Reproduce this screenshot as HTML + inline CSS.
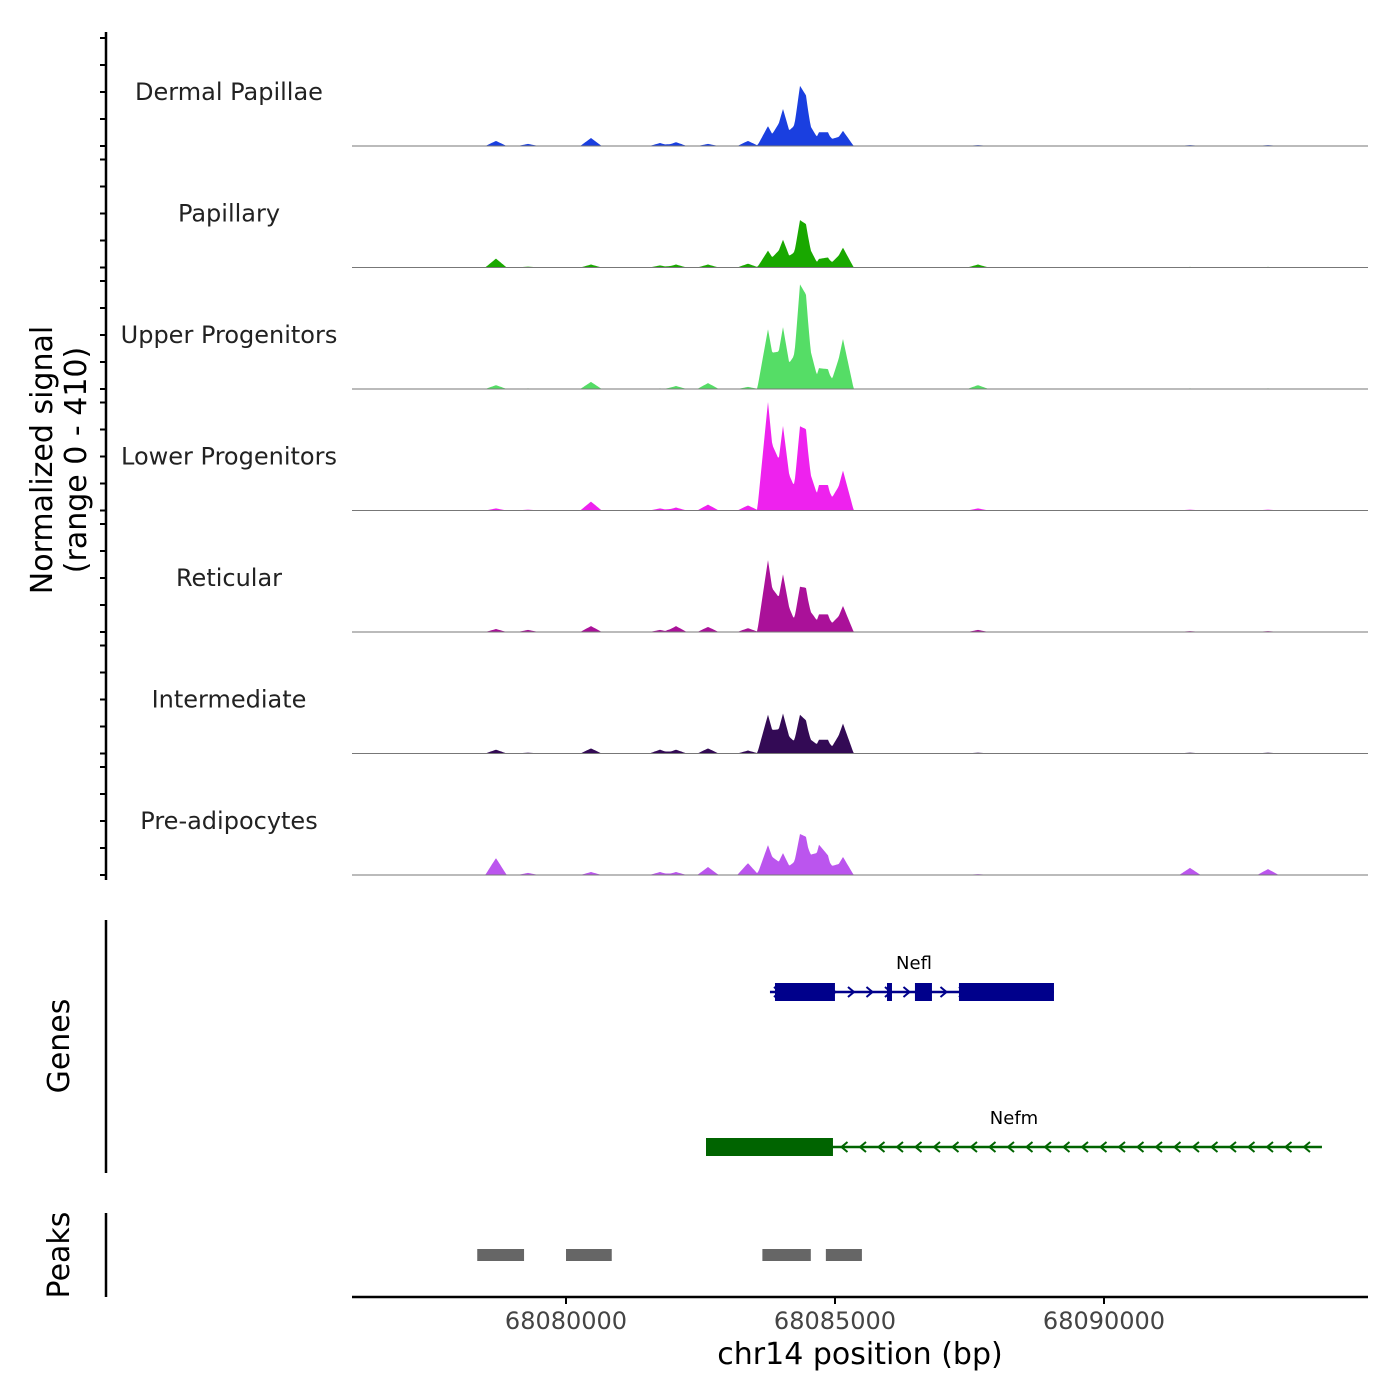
<!DOCTYPE html>
<html><head><meta charset="utf-8"><style>
body{margin:0;background:#fff}
svg{display:block;font-family:"DejaVu Sans","Liberation Sans",sans-serif}
</style></head><body>
<svg id="chart" width="1400" height="1400" viewBox="0 0 1400 1400">
<g id="tracks"></g>
<g id="axes"></g>
<g id="genes"></g>
<g id="peaks"></g>
</svg>
<script>
const trackNames = ["Dermal Papillae","Papillary","Upper Progenitors","Lower Progenitors","Reticular","Intermediate","Pre-adipocytes"];
const trackColors = ["#1a3fe0","#19a800","#55dd66","#ee22ee","#aa1199","#330a55","#bb55ee"];
const peakCenters = [68078698,68079293,68080464,68081747,68082044,68082639,68083382,68083754,68084033,68084349,68084460,68084702,68084869,68085148,68087657,68091598,68093048];
const sigDermal = [17,7,27,10,13,7,17,67,125,158,101,40,40,51,3,3,3];
const sigPapillary = [30,3,10,7,10,10,13,57,94,118,94,24,30,67,10,2,2];
const sigUpper = [13,2,24,2,10,20,7,202,209,263,202,61,57,169,13,2,2];
const sigLower = [7,3,30,7,10,20,17,367,286,202,185,74,74,135,7,3,3];
const sigReticular = [10,7,20,7,20,17,13,243,195,108,101,51,51,88,7,3,3];
const sigIntermediate = [13,3,17,13,13,17,10,131,135,101,67,40,40,101,3,3,3];
const sigPreadipo = [57,7,10,10,10,27,40,101,74,101,84,94,51,61,3,24,20];
const signals = [sigDermal,sigPapillary,sigUpper,sigLower,sigReticular,sigIntermediate,sigPreadipo];
const xTicks = [68080000,68085000,68090000];
const geneNames = ["Nefl","Nefm"];
const geneStarts = [68083791,68082602];
const geneEnds = [68089070,68094051];
const geneStrand = [1,-1];
const exonsNefl = [[68083884,68084999],[68085966,68086059],[68086486,68086802],[68087304,68089070]];
const exonsNefm = [[68082602,68084962]];
const peakStarts = [68078350,68080000,68083650,68084830];
const peakEnds = [68079220,68080850,68084550,68085500];
const yMax = 410;

const NS="http://www.w3.org/2000/svg";
const X0=352,X1=1368,D0=68076022,D1=68094907;
const xs=v=>X0+(v-D0)/(D1-D0)*(X1-X0);
const TH=121.5, base0=146;
const ys=(v,b)=>b-v/yMax*TH;
function el(t,a,p){const e=document.createElementNS(NS,t);for(const k in a)e.setAttribute(k,a[k]);p.appendChild(e);return e;}
const tracks=document.getElementById('tracks');
const hw=200;
trackNames.forEach((n,i)=>{
  const b=base0+i*TH;
  let d=`M${X0},${b}`;
  for(let px=X0;px<=X1;px++){
    const bp=D0+(px-X0)/(X1-X0)*(D1-D0);
    let s=0;
    peakCenters.forEach((c,j)=>{const r=1-Math.abs(bp-c)/hw;if(r>0)s+=signals[i][j]*r;});
    d+=`L${px},${ys(Math.min(s,yMax),b).toFixed(1)}`;
  }
  d+=`L${X1},${b}Z`;
  const p=el('path',{d:d,fill:trackColors[i]},tracks);
  
  
  const l=el('line',{x1:X0,x2:X1,y1:b,y2:b,stroke:'#777','stroke-width':1},tracks);
  
  
  const t=el('text',{x:229,y:b-46,'text-anchor':'middle','font-size':24,fill:'#222'},tracks);
  t.textContent=n;
  
  
  for(let k=0;k<5;k++){const y=b-k*27;el('line',{x1:100,x2:106,y1:y,y2:y,stroke:'#000','stroke-width':2},tracks);}
});
const axes=document.getElementById('axes');
el('line',{x1:106,x2:106,y1:32,y2:880,stroke:'#000','stroke-width':2.5},axes);
let t=el('text',{transform:'translate(52,460) rotate(-90)','text-anchor':'middle','font-size':30,fill:'#000'},axes);t.textContent='Normalized signal';

t=el('text',{transform:'translate(86,460) rotate(-90)','text-anchor':'middle','font-size':30,fill:'#000'},axes);t.textContent='(range 0 - 410)';

el('line',{x1:X0,x2:X1,y1:1297,y2:1297,stroke:'#000','stroke-width':2.5},axes);
xTicks.forEach(v=>{const x=xs(v);el('line',{x1:x,x2:x,y1:1297,y2:1304,stroke:'#000','stroke-width':2},axes);
 const tt=el('text',{x:x,y:1329,'text-anchor':'middle','font-size':24,fill:'#444'},axes);tt.textContent=v;
 });
t=el('text',{x:860,y:1364,'text-anchor':'middle','font-size':30,fill:'#000'},axes);t.textContent='chr14 position (bp)';

const g=document.getElementById('genes');
el('line',{x1:106,x2:106,y1:920,y2:1173,stroke:'#000','stroke-width':2.5},g);
t=el('text',{transform:'translate(69,1046) rotate(-90)','text-anchor':'middle','font-size':30},g);t.textContent='Genes';

const geneY=[992,1147],geneCol=['#00008b','#006400'],exons=[exonsNefl,exonsNefm];
geneNames.forEach((n,i)=>{
  const y=geneY[i],c=geneCol[i],a=xs(geneStarts[i]),b=xs(geneEnds[i]);
  el('line',{x1:a,x2:b,y1:y,y2:y,stroke:c,'stroke-width':2.5},g);
  for(let x=a+8;x<b;x+=18.5){const s=geneStrand[i];
    el('polyline',{points:`${x-4*s},${y-5} ${x+2*s},${y} ${x-4*s},${y+5}`,fill:'none',stroke:c,'stroke-width':2},g);}
  exons[i].forEach(e=>{const r=el('rect',{x:xs(e[0]),y:y-9,width:xs(e[1])-xs(e[0]),height:18,fill:c},g);
    });
  const tt=el('text',{x:i==0?914:1014,y:y-23,'text-anchor':'middle','font-size':18},g);tt.textContent=n;
  
});
const pk=document.getElementById('peaks');
el('line',{x1:106,x2:106,y1:1213,y2:1297,stroke:'#000','stroke-width':2.5},pk);
t=el('text',{transform:'translate(69,1255) rotate(-90)','text-anchor':'middle','font-size':30},pk);t.textContent='Peaks';

peakStarts.forEach((s,i)=>{const r=el('rect',{x:xs(s),y:1249,width:xs(peakEnds[i])-xs(s),height:12,fill:'#666'},pk);
  });
</script>
</body></html>
